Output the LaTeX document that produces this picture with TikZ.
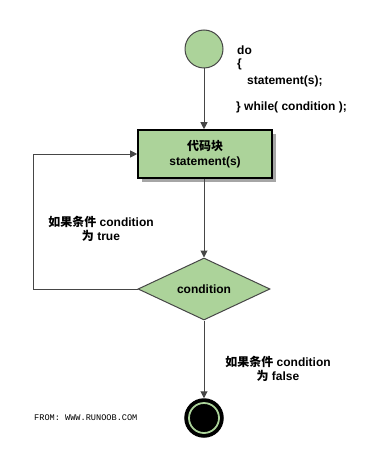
\documentclass[tikz,border=0pt]{standalone}
\usepackage{fontspec}
\usepackage{xcolor}
\usepackage{tikz}
\usetikzlibrary{shapes.geometric, arrows.meta, positioning, calc}
\setmainfont{Liberation Sans}
\newfontfamily\cjkfont{Noto Sans CJK SC}
\newfontfamily\monofont{Liberation Mono}
\definecolor{flowgreen}{RGB}{172,211,154}
\definecolor{edgegray}{RGB}{70,70,70}

\begin{document}
\begin{tikzpicture}[x=1pt,y=-1pt,
  txt/.style={font=\fontsize{12}{13.5}\selectfont\bfseries, inner sep=0pt},
  flow/.style={draw=edgegray, line width=1pt, -{Triangle[length=7pt,width=7pt]}},
  line/.style={draw=edgegray, line width=1pt}]
  \useasboundingbox (0,0) rectangle (391,468);

  % Start circle
  \node[circle, draw=edgegray, fill=flowgreen, line width=1pt, minimum size=38pt, inner sep=0pt] (start) at (204,49) {};

  % Loop code text
  \node[txt, anchor=west] (dolbl) at (237,50) {do};
  \node[txt, anchor=west] (lbrace) at (237,64) {\{};
  \node[txt, anchor=west] (stmt) at (247,81) {statement(s);};
  \node[txt, anchor=west] (whilelbl) at (236,107) {\} while( condition );};

  % Code block with shadow
  \fill[black!35] (142,134) rectangle (276,182);
  \node[rectangle, draw=black, fill=flowgreen, line width=1.6pt, minimum width=134pt, minimum height=48pt, inner sep=0pt, align=center, txt] (code) at (205,154) {{\cjkfont 代码块}\\[2pt]statement(s)};

  % Condition diamond
  \node[diamond, draw=edgegray, fill=flowgreen, line width=1pt, minimum width=132pt, minimum height=62pt, inner sep=0pt, aspect=2.1, txt] (cond) at (204,289) {condition};

  % End circle
  \node[circle, draw=black, fill=black, line width=1.5pt, minimum size=38pt, inner sep=0pt] (stop) at (204,418) {};
  \draw[flowgreen, line width=1.8pt] (stop.center) circle (15);

  % Connectors
  \draw[flow] (start) -- (code.north -| start);
  \draw[flow] (code.south -| start) -- (cond.north);
  \draw[flow] (cond.south) -- (stop.north);
  \coordinate (loop) at (33,289);
  \draw[flow] (cond.west) -- (loop) |- (code.west);

  % Labels
  \node[txt, align=center] (truelbl) at (101,229) {{\cjkfont 如果条件} condition\\[1pt]{\cjkfont 为} true};
  \node[txt, align=center] (falselbl) at (278,369) {{\cjkfont 如果条件} condition\\[1pt]{\cjkfont 为} false};
  \node[anchor=west, inner sep=0pt, font=\monofont\fontsize{8.6}{10}\selectfont] (src) at (34,418) {FROM: WWW.RUNOOB.COM};
\end{tikzpicture}
\end{document}
